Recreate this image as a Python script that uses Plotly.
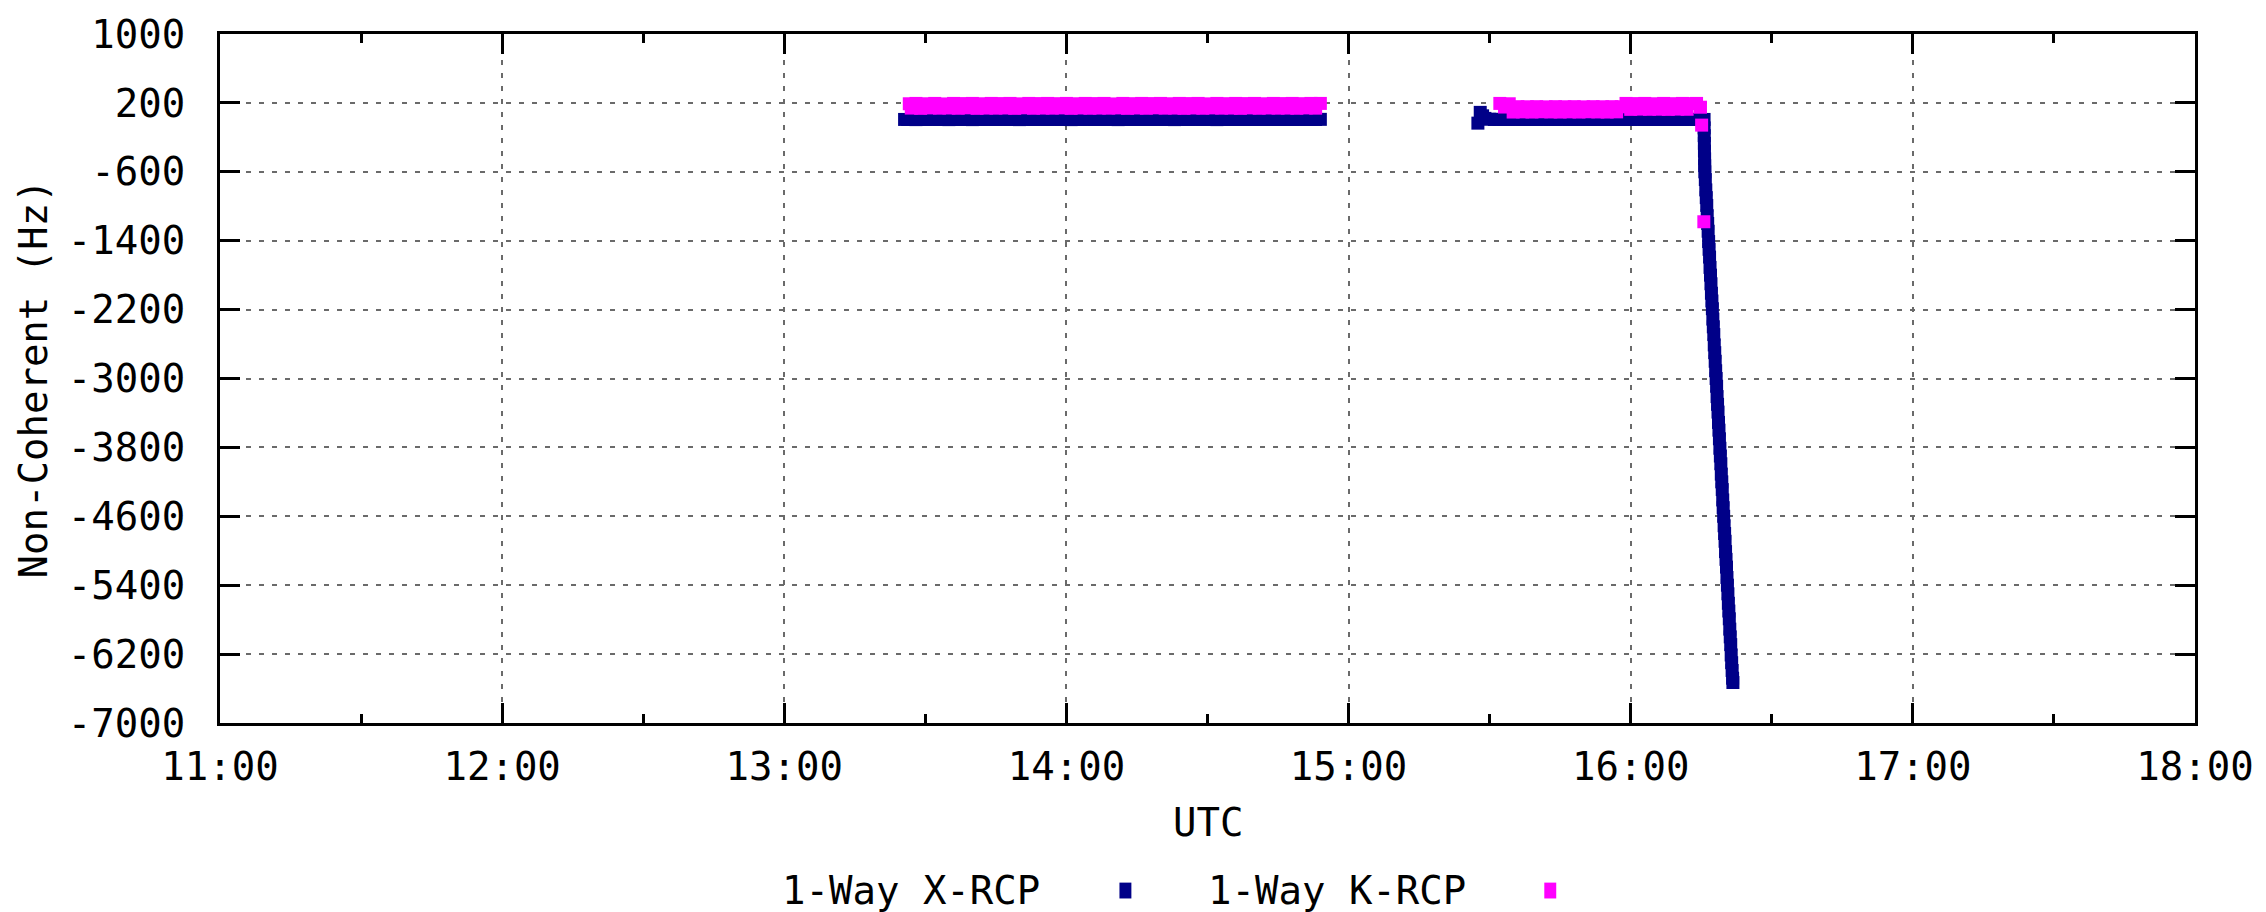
import plotly.graph_objects as go

DAY = "2024-01-01 "

# ---------------- data ----------------
# Pass 1 (both series share the minute grid)
SEG1_TIME = [
    "13:27", "13:28", "13:29", "13:30", "13:31", "13:32", "13:33", "13:34", "13:35", "13:36",
    "13:37", "13:38", "13:39", "13:40", "13:41", "13:42", "13:43", "13:44", "13:45", "13:46",
    "13:47", "13:48", "13:49", "13:50", "13:51", "13:52", "13:53", "13:54", "13:55", "13:56",
    "13:57", "13:58", "13:59", "14:00", "14:01", "14:02", "14:03", "14:04", "14:05", "14:06",
    "14:07", "14:08", "14:09", "14:10", "14:11", "14:12", "14:13", "14:14", "14:15", "14:16",
    "14:17", "14:18", "14:19", "14:20", "14:21", "14:22", "14:23", "14:24", "14:25", "14:26",
    "14:27", "14:28", "14:29", "14:30", "14:31", "14:32", "14:33", "14:34", "14:35", "14:36",
    "14:37", "14:38", "14:39", "14:40", "14:41", "14:42", "14:43", "14:44", "14:45", "14:46",
    "14:47", "14:48", "14:49", "14:50", "14:51", "14:52", "14:53", "14:54",
]

# 1-Way X-RCP, pass 1
X_SEG1_START = ["13:25:35", "13:26:15"]
X_SEG1_START_VAL = [8, 7]
X_SEG1_VAL = [
    8, 6, 9, 7, 8, 10, 7, 8, 6, 9,
    7, 8, 9, 6, 8, 7, 9, 8, 7, 8,
    9, 7, 8, 6, 8, 9, 7, 8, 8, 7,
    8, 9, 7, 8, 6, 8, 7, 9, 8, 7,
    7, 8, 9, 8, 6, 8, 9, 7, 8, 8,
    8, 7, 8, 9, 7, 8, 6, 8, 9, 7,
    9, 8, 7, 8, 8, 6, 9, 8, 7, 8,
    8, 7, 9, 8, 7, 8, 8, 9, 7, 8,
    7, 8, 8, 9, 7, 8, 8, 9,
]

# 1-Way K-RCP, pass 1
K_SEG1_START = ["13:26:35"]
K_SEG1_START_VAL = [190]
K_SEG1_VAL = [
    140, 194, 137, 190, 142, 194, 139, 188, 141, 194,
    138, 192, 143, 194, 137, 190, 140, 194, 139, 192,
    141, 194, 137, 189, 143, 194, 138, 192, 140, 194,
    139, 191, 142, 194, 137, 190, 141, 194, 138, 192,
    140, 194, 139, 188, 142, 194, 137, 191, 141, 194,
    138, 192, 143, 194, 139, 190, 140, 194, 137, 192,
    141, 194, 138, 189, 142, 194, 139, 191, 140, 194,
    137, 192, 142, 194, 138, 190, 141, 194, 139, 192,
    140, 194, 138, 191, 142, 194, 139, 194,
]

# 1-Way X-RCP, pass 2 (flat part)
X_SEG2_TIME = [
    "15:27:30", "15:28:00", "15:28:30", "15:29:00",
    "15:30", "15:31", "15:32", "15:33", "15:34", "15:35", "15:36", "15:37", "15:38", "15:39",
    "15:40", "15:41", "15:42", "15:43", "15:44", "15:45", "15:46", "15:47", "15:48", "15:49",
    "15:50", "15:51", "15:52", "15:53", "15:54", "15:55", "15:56", "15:57", "15:58", "15:59",
    "16:00", "16:01", "16:02", "16:03", "16:04", "16:05", "16:06", "16:07", "16:08", "16:09",
    "16:10", "16:11", "16:12", "16:13", "16:14", "16:15", "16:15:36",
]
X_SEG2_VAL = [
    -35, 90, 50, 20,
    10, 8, 9, 7, 8, 8, 9, 7, 8, 8,
    7, 9, 8, 8, 7, 8, 9, 8, 7, 8,
    8, 9, 7, 8, 8, 7, 9, 8, 8, 7,
    8, 8, 9, 7, 8, 8, 7, 9, 8, 8,
    7, 8, 9, 8, 8, 7, 8,
]

# 1-Way X-RCP, drop at end of pass 2
X_DROP_TIME = [
    "16:15:37", "16:15:38", "16:15:40", "16:15:41", "16:15:43", "16:15:44",
    "16:15:46", "16:15:52", "16:15:58", "16:16:04", "16:16:10",
    "16:16:16", "16:16:22", "16:16:28", "16:16:34", "16:16:40", "16:16:46", "16:16:52",
    "16:16:58", "16:17:04", "16:17:10", "16:17:16", "16:17:22", "16:17:28", "16:17:34",
    "16:17:40", "16:17:46", "16:17:52", "16:17:58", "16:18:04", "16:18:10", "16:18:16",
    "16:18:22", "16:18:28", "16:18:34", "16:18:40", "16:18:46", "16:18:52", "16:18:58",
    "16:19:04", "16:19:10", "16:19:16", "16:19:22", "16:19:28", "16:19:34", "16:19:40",
    "16:19:46", "16:19:52", "16:19:58", "16:20:04", "16:20:10", "16:20:16", "16:20:22",
    "16:20:28", "16:20:34", "16:20:40", "16:20:46", "16:20:52", "16:20:58", "16:21:04",
    "16:21:10", "16:21:16", "16:21:22", "16:21:28", "16:21:34", "16:21:40", "16:21:44",
]
X_DROP_VAL = [
    -90, -180, -270, -360, -450, -530,
    -600, -690, -810, -900, -990,
    -1110, -1200, -1290, -1410, -1500, -1590, -1710,
    -1800, -1900, -2010, -2100, -2190, -2310, -2400,
    -2490, -2610, -2700, -2800, -2910, -3000, -3090,
    -3210, -3300, -3390, -3510, -3600, -3700, -3810,
    -3900, -3990, -4110, -4200, -4290, -4410, -4500,
    -4600, -4710, -4800, -4890, -5010, -5100, -5190,
    -5310, -5400, -5500, -5610, -5700, -5790, -5910,
    -6000, -6090, -6210, -6300, -6390, -6480, -6530,
]

# 1-Way K-RCP, pass 2
K_SEG2_TIME = [
    "15:32:10", "15:33:10", "15:34:10",
    "15:35", "15:36", "15:37", "15:38", "15:39", "15:40", "15:41", "15:42",
    "15:43", "15:44", "15:45", "15:46", "15:47", "15:48", "15:49", "15:50",
    "15:51", "15:52", "15:53", "15:54", "15:55", "15:56", "15:57", "15:58",
    "15:59", "16:00", "16:01", "16:02", "16:03", "16:04", "16:05", "16:06",
    "16:07", "16:08", "16:09", "16:10", "16:11", "16:12", "16:13",
    "16:14:00", "16:14:50", "16:15:05", "16:15:33",
]
K_SEG2_VAL = [
    194, 152, 190,
    94, 156, 96, 155, 94, 156, 97, 154,
    95, 156, 94, 155, 96, 156, 94, 154,
    97, 156, 95, 155, 94, 156, 96, 155,
    194, 125, 192, 128, 194, 126, 190, 127,
    194, 125, 191, 128, 194, 126, 192,
    194, 150, -58, -1180,
]

Y_TICKS = [1000, 200, -600, -1400, -2200, -3000, -3800, -4600, -5400, -6200, -7000]
Y_TICK_TEXT = ["1000", "200", "-600", "-1400", "-2200", "-3000", "-3800",
               "-4600", "-5400", "-6200", "-7000"]

SERIES_NAMES = ["1-Way X-RCP", "1-Way K-RCP"]
NAVY = "#000088"
MAGENTA = "#FF00FF"
FONT = "DejaVu Sans Mono"
FS = 39

# ---------------- figure ----------------
W, H = 2266, 912
PL, PT, PR, PB = 220, 28, 2205, 723   # plot frame in page pixels
PW, PH = PR - PL, PB - PT
L, T = PL, PT
R, B = W - L - PW, H - T - PH


def px(x):
    return (x - PL) / PW


def py(y):
    return (PB - y) / PH


x_time = X_SEG1_START + SEG1_TIME + X_SEG2_TIME + X_DROP_TIME
x_val = X_SEG1_START_VAL + X_SEG1_VAL + X_SEG2_VAL + X_DROP_VAL
k_time = K_SEG1_START + SEG1_TIME + K_SEG2_TIME
k_val = K_SEG1_START_VAL + K_SEG1_VAL + K_SEG2_VAL

fig = go.Figure()
fig.add_trace(go.Scatter(
    x=[DAY + t for t in x_time], y=x_val, mode="markers", name=SERIES_NAMES[0],
    marker=dict(symbol="square", size=13, color=NAVY, line=dict(width=0)),
    showlegend=False,
))
fig.add_trace(go.Scatter(
    x=[DAY + t for t in k_time], y=k_val, mode="markers", name=SERIES_NAMES[1],
    marker=dict(symbol="square", size=13, color=MAGENTA, line=dict(width=0)),
    showlegend=False,
))

grid = dict(showgrid=True, gridcolor="#6a6a6a", gridwidth=2, griddash="5px,8px")
axis_common = dict(
    showline=True, linecolor="black", linewidth=3, mirror="ticks",
    ticks="inside", ticklen=20, tickwidth=2.5, tickcolor="black",
    zeroline=False, tickfont=dict(family=FONT, size=FS, color="black"),
    ticklabeloverflow="allow",
    **grid,
)

fig.update_xaxes(
    type="date",
    range=[DAY + "11:00", DAY + "18:00"],
    dtick=3600000, tick0=DAY + "11:00", tickformat="%H:%M",
    ticklabelstandoff=7,
    minor=dict(dtick=1800000, ticks="inside", ticklen=9, tickwidth=2.5,
               tickcolor="black", showgrid=False),
    **axis_common,
)
fig.update_yaxes(
    range=[-7000, 1000],
    tickmode="array", tickvals=Y_TICKS, ticktext=Y_TICK_TEXT,
    ticklabelstandoff=24,
    **axis_common,
)

annots = [
    dict(text="UTC", x=0.5, y=py(823), xanchor="center", yanchor="middle"),
    dict(text="Non-Coherent (Hz)", x=px(33), y=0.5, textangle=-90,
         xanchor="center", yanchor="middle"),
    dict(text=SERIES_NAMES[0], x=px(1046), y=py(892), xanchor="right", yanchor="middle"),
    dict(text=SERIES_NAMES[1], x=px(1474), y=py(892), xanchor="right", yanchor="middle"),
]
for a in annots:
    a.update(xref="paper", yref="paper", showarrow=False,
             font=dict(family=FONT, size=FS, color="black"))

shapes = [
    dict(type="rect", xref="paper", yref="paper", x0=px(1124), x1=px(1136),
         y0=py(900), y1=py(884), fillcolor=NAVY, line=dict(width=0)),
    dict(type="rect", xref="paper", yref="paper", x0=px(1551), x1=px(1563),
         y0=py(900), y1=py(884), fillcolor=MAGENTA, line=dict(width=0)),
]

fig.update_layout(
    width=W, height=H, autosize=False,
    margin=dict(l=L, r=R, t=T, b=B, pad=0),
    paper_bgcolor="white", plot_bgcolor="white",
    annotations=annots, shapes=shapes, showlegend=False,
)

# remove the default page margin so the figure fills the window exactly
fig.write_html(
    "out.html",
    config={"displayModeBar": False},
    post_script="document.body.style.margin='0';document.body.style.overflow='hidden';",
)
